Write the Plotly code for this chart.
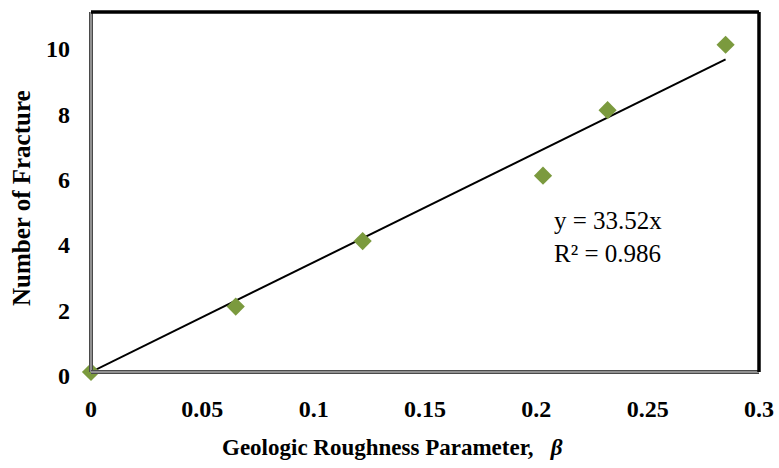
import plotly.graph_objects as go

# Geologic roughness parameter vs. number of fractures
beta = [0.0, 0.065, 0.122, 0.203, 0.232, 0.285]
fractures = [0, 2, 4, 6, 8, 10]

# Linear trendline through the origin: y = 33.52x
slope = 33.52
r_squared = 0.986
trend_x = [0.0, max(beta)]
trend_y = [slope * v for v in trend_x]

x_ticks = [0, 0.05, 0.1, 0.15, 0.2, 0.25, 0.3]
x_tick_text = ["0", "0.05", "0.1", "0.15", "0.2", "0.25", "0.3"]
y_ticks = [0, 2, 4, 6, 8, 10]

serif = "Liberation Serif, Times New Roman, serif"

fig = go.Figure()
fig.add_trace(go.Scatter(
    x=trend_x, y=trend_y, mode="lines",
    line=dict(color="black", width=2), hoverinfo="skip", showlegend=False,
))
fig.add_trace(go.Scatter(
    x=beta, y=fractures, mode="markers", cliponaxis=False,
    marker=dict(symbol="diamond", size=14, color="#7B9A3E", line=dict(width=0)),
    showlegend=False,
))

fig.update_layout(
    width=779, height=468,
    margin=dict(l=91, r=20, t=12, b=96),
    paper_bgcolor="white", plot_bgcolor="white",
    font=dict(family=serif, color="black"),
    xaxis=dict(
        range=[0, 0.3], tickvals=x_ticks, ticktext=x_tick_text,
        showgrid=False, zeroline=False, showline=False, automargin=False,
        ticks="", ticklabelstandoff=20,
        tickfont=dict(size=24, family=serif, weight="bold"),
    ),
    yaxis=dict(
        range=[0, 11], tickvals=y_ticks,
        showgrid=False, zeroline=False, showline=False, automargin=False,
        ticks="", ticklabelstandoff=20, ticklabelshift=4,
        tickfont=dict(size=24, family=serif, weight="bold"),
    ),
)

# Plot-area frame: grey left/bottom edges, black top/right edges
for x0, y0, x1, y1 in [(0, 0, 0, 1), (0, 0, 1, 0)]:
    fig.add_shape(type="line", xref="paper", yref="paper", x0=x0, y0=y0, x1=x1, y1=y1,
                  line=dict(color="#4a4a4a", width=4))
    fig.add_shape(type="line", xref="paper", yref="paper", x0=x0, y0=y0, x1=x1, y1=y1,
                  line=dict(color="#a8a8a8", width=1.5))
for x0, y0, x1, y1 in [(0, 1, 1, 1), (1, 0, 1, 1)]:
    fig.add_shape(type="line", xref="paper", yref="paper", x0=x0, y0=y0, x1=x1, y1=y1,
                  line=dict(color="black", width=3.5))

# Axis titles
fig.add_annotation(
    xref="paper", yref="paper", x=(22 - 91) / 668, y=(372 - 198) / 360,
    text="<b>Number of Fracture</b>", textangle=-90, showarrow=False,
    font=dict(size=25, family=serif), xanchor="center", yanchor="middle",
)
fig.add_annotation(
    xref="paper", yref="paper", x=(392 - 91) / 668, y=-(448 - 372) / 360,
    text="<b>Geologic Roughness Parameter,   <i>β</i></b>", showarrow=False,
    font=dict(size=23, family=serif), xanchor="center", yanchor="middle",
)

# Trendline equation label
fig.add_annotation(
    xref="paper", yref="paper", x=(552 - 91) / 668, y=(372 - 237) / 360,
    text=f"y = {slope}x<br>R² = {r_squared}", showarrow=False, align="left",
    font=dict(size=25, family=serif), xanchor="left", yanchor="middle",
)

fig.write_html("out.html")
